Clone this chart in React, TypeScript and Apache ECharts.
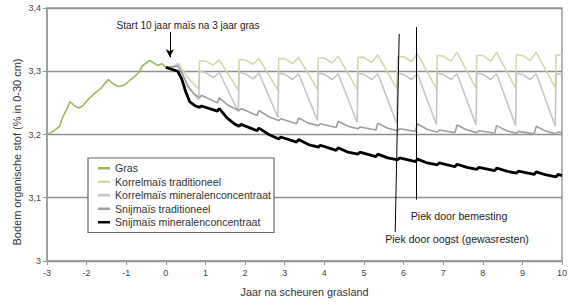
import React, { useEffect, useRef } from "react";
import * as echarts from "echarts";

const seriesNames = [
  "Gras",
  "Korrelmaïs traditioneel",
  "Korrelmaïs mineralenconcentraat",
  "Snijmaïs traditioneel",
  "Snijmaïs mineralenconcentraat",
];

const gras: number[][] = [
  [-3.0, 3.2], [-2.9, 3.203], [-2.78, 3.208], [-2.68, 3.213], [-2.6, 3.228], [-2.5, 3.24],
  [-2.42, 3.252], [-2.3, 3.245], [-2.2, 3.242], [-2.1, 3.245], [-1.95, 3.256], [-1.8, 3.265],
  [-1.65, 3.272], [-1.55, 3.28], [-1.45, 3.287], [-1.35, 3.281], [-1.2, 3.276], [-1.05, 3.278],
  [-0.92, 3.285], [-0.8, 3.291], [-0.68, 3.298], [-0.6, 3.308], [-0.5, 3.313], [-0.4, 3.317],
  [-0.3, 3.313], [-0.2, 3.309], [-0.1, 3.312], [0.0, 3.306],
];

const korrelTrad: number[][] = [
  [0, 3.306], [0.2, 3.306], [0.3, 3.313], [0.4, 3.305], [0.55, 3.29], [0.83, 3.272],
  [0.85, 3.316], [1.0, 3.316], [1.2, 3.31], [1.35, 3.318], [1.83, 3.27],
  [1.85, 3.318], [2.0, 3.318], [2.2, 3.311], [2.35, 3.32], [2.83, 3.27],
  [2.85, 3.32], [3.0, 3.32], [3.2, 3.312], [3.35, 3.322], [3.83, 3.271],
  [3.85, 3.321], [4.0, 3.321], [4.2, 3.313], [4.35, 3.324], [4.83, 3.271],
  [4.85, 3.322], [5.0, 3.322], [5.2, 3.314], [5.35, 3.326], [5.83, 3.272],
  [5.85, 3.323], [6.0, 3.323], [6.2, 3.315], [6.35, 3.328], [6.83, 3.272],
  [6.85, 3.325], [7.0, 3.324], [7.2, 3.316], [7.35, 3.33], [7.83, 3.273],
  [7.85, 3.325], [8.0, 3.325], [8.2, 3.316], [8.35, 3.33], [8.83, 3.273],
  [8.85, 3.326], [9.0, 3.325], [9.2, 3.317], [9.35, 3.33], [9.83, 3.274],
  [9.85, 3.326], [10.0, 3.325],
];

const korrelMin: number[][] = [
  [0, 3.306], [0.3, 3.31], [0.4, 3.3], [0.55, 3.275], [0.83, 3.255],
  [0.85, 3.3], [1.0, 3.298], [1.2, 3.29], [1.35, 3.298], [1.83, 3.236],
  [1.85, 3.298], [2.0, 3.296], [2.2, 3.288], [2.35, 3.297], [2.83, 3.227],
  [2.85, 3.297], [3.0, 3.295], [3.2, 3.287], [3.35, 3.296], [3.83, 3.222],
  [3.85, 3.297], [4.0, 3.295], [4.2, 3.287], [4.35, 3.296], [4.83, 3.219],
  [4.85, 3.297], [5.0, 3.295], [5.2, 3.287], [5.35, 3.296], [5.83, 3.217],
  [5.85, 3.297], [6.0, 3.295], [6.2, 3.287], [6.35, 3.296], [6.83, 3.216],
  [6.85, 3.297], [7.0, 3.295], [7.2, 3.287], [7.35, 3.296], [7.83, 3.215],
  [7.85, 3.297], [8.0, 3.295], [8.2, 3.287], [8.35, 3.296], [8.83, 3.214],
  [8.85, 3.297], [9.0, 3.295], [9.2, 3.287], [9.35, 3.296], [9.83, 3.213],
  [9.85, 3.296], [10.0, 3.295],
];

const snijTrad: number[][] = [
  [0, 3.306], [0.3, 3.308], [0.4, 3.298], [0.55, 3.278], [0.7, 3.265], [0.85, 3.258],
  [0.9, 3.262], [1.3, 3.25], [1.35, 3.258], [1.6, 3.245], [1.85, 3.238], [1.9, 3.241],
  [2.3, 3.23], [2.35, 3.238], [2.6, 3.228], [2.85, 3.222], [2.9, 3.225], [3.3, 3.217],
  [3.35, 3.226], [3.6, 3.218], [3.85, 3.214], [3.9, 3.217], [4.3, 3.211], [4.35, 3.221],
  [4.6, 3.213], [4.85, 3.209], [4.9, 3.212], [5.3, 3.207], [5.35, 3.218], [5.6, 3.21],
  [5.85, 3.206], [5.9, 3.209], [6.3, 3.205], [6.35, 3.217], [6.6, 3.208], [6.85, 3.204],
  [6.9, 3.207], [7.3, 3.203], [7.35, 3.215], [7.6, 3.207], [7.85, 3.203], [7.9, 3.206],
  [8.3, 3.202], [8.35, 3.214], [8.6, 3.206], [8.85, 3.202], [8.9, 3.205], [9.3, 3.201],
  [9.35, 3.213], [9.6, 3.205], [9.85, 3.201], [9.9, 3.204], [10, 3.203],
];

const snijMin: number[][] = [
  [0, 3.306], [0.2, 3.302], [0.3, 3.3], [0.4, 3.288], [0.5, 3.268], [0.6, 3.252], [0.75, 3.245],
  [0.85, 3.243], [0.9, 3.245], [1.3, 3.237], [1.35, 3.241], [1.55, 3.226], [1.75, 3.216],
  [1.85, 3.213], [1.9, 3.216], [2.3, 3.206], [2.35, 3.21], [2.6, 3.2], [2.85, 3.193],
  [2.9, 3.196], [3.3, 3.188], [3.35, 3.192], [3.6, 3.184], [3.85, 3.18], [3.9, 3.183],
  [4.3, 3.175], [4.35, 3.179], [4.6, 3.172], [4.85, 3.169], [4.9, 3.172], [5.3, 3.165],
  [5.35, 3.169], [5.6, 3.163], [5.85, 3.16], [5.9, 3.163], [6.3, 3.157], [6.35, 3.161],
  [6.6, 3.155], [6.85, 3.152], [6.9, 3.155], [7.3, 3.149], [7.35, 3.153], [7.6, 3.148],
  [7.85, 3.145], [7.9, 3.148], [8.3, 3.143], [8.35, 3.147], [8.6, 3.142], [8.85, 3.139],
  [8.9, 3.142], [9.3, 3.137], [9.35, 3.141], [9.6, 3.136], [9.85, 3.133], [9.9, 3.137],
  [10, 3.135],
];

const seriesData = [gras, korrelTrad, korrelMin, snijTrad, snijMin];
const seriesColors = ["#9bbb59", "#cfdcaa", "#c6c6c6", "#9e9e9e", "#000000"];
const seriesWidths = [1.6, 1.6, 1.6, 1.6, 2.8];

const arrowLine = [[0.1, 3.362], [0.1, 3.322]];
const oogstLine = [[5.89, 3.359], [5.79, 3.046]];
const bemestingLine = [[6.32, 3.37], [6.32, 3.097]];

const FONT = "'Liberation Sans', Arial, sans-serif";

export default function App() {
  const ref = useRef<HTMLDivElement>(null);
  useEffect(() => {
    if (!ref.current) return;
    const chart = echarts.init(ref.current, null, { renderer: "svg" });
    const drawOrder = [1, 2, 3, 4, 0];
    const series: any[] = drawOrder.map((i) => ({
      name: seriesNames[i],
      type: "line",
      data: seriesData[i],
      symbol: "none",
      showSymbol: false,
      smooth: false,
      z: i === 4 ? 5 : 3,
      lineStyle: { color: seriesColors[i], width: seriesWidths[i] },
      itemStyle: { color: seriesColors[i] },
    }));
    series.push({
      name: "annotations",
      type: "line",
      data: [],
      z: 6,
      markLine: {
        silent: true,
        animation: false,
        symbol: ["none", "none"],
        label: { show: false },
        lineStyle: { color: "#000", width: 1, type: "solid" },
        data: [
          [{ coord: oogstLine[0] }, { coord: oogstLine[1] }],
          [{ coord: bemestingLine[0] }, { coord: bemestingLine[1] }],
          [
            { coord: arrowLine[0], symbol: "none" },
            { coord: arrowLine[1], symbol: "arrow", symbolSize: [6, 8] },
          ],
        ],
      },
    });
    chart.setOption({
      animation: false,
      textStyle: { fontFamily: FONT },
      grid: {
        left: 47,
        right: 7,
        top: 8,
        bottom: 44,
        show: true,
        borderColor: "#9a9a9a",
        borderWidth: 1.5,
      },
      legend: {
        data: seriesNames.map((n) => ({ name: n, icon: "rect" })),
        orient: "vertical",
        left: 88,
        top: 158,
        padding: [4, 3, 4, 10],
        itemGap: 1,
        itemWidth: 12,
        itemHeight: 2.5,
        backgroundColor: "#fff",
        borderColor: "#666",
        borderWidth: 1.2,
        textStyle: { fontSize: 10.6, color: "#333", fontFamily: FONT, lineHeight: 12.5 },
        selectedMode: false,
      },
      xAxis: {
        type: "value",
        min: -3,
        max: 10,
        interval: 1,
        name: "Jaar na scheuren grasland",
        nameLocation: "middle",
        nameGap: 25,
        nameTextStyle: { fontSize: 10.8, color: "#333", fontFamily: FONT },
        axisLine: { show: true, onZero: false, lineStyle: { color: "#9a9a9a", width: 1.5 } },
        axisTick: { show: true, length: 4, lineStyle: { color: "#9a9a9a" } },
        axisLabel: { fontSize: 9, color: "#444", margin: 7, fontFamily: FONT },
        splitLine: { show: false },
      },
      yAxis: {
        type: "value",
        min: 3,
        max: 3.4,
        interval: 0.1,
        axisLine: { show: true, onZero: false, lineStyle: { color: "#9a9a9a", width: 1.5 } },
        axisTick: { show: true, length: 4, lineStyle: { color: "#9a9a9a" } },
        axisLabel: {
          fontSize: 9,
          color: "#444",
          margin: 6,
          fontFamily: FONT,
          formatter: (v: number) => (Math.abs(v - 3) < 1e-9 ? "3" : v.toFixed(1).replace(".", ",")),
        },
        splitLine: { show: true, lineStyle: { color: "#8f8f8f", width: 1.3 } },
      },
      graphic: [
        {
          type: "text",
          x: 17,
          y: 152,
          rotation: Math.PI / 2,
          style: {
            text: "Bodem organische stof (% in 0-30 cm)",
            fontSize: 11,
            fill: "#333",
            fontFamily: FONT,
            textAlign: "center",
            textVerticalAlign: "middle",
          },
        },
        {
          type: "text",
          x: 188,
          y: 25,
          style: {
            text: "Start 10 jaar maïs na 3 jaar gras",
            fontSize: 10,
            fill: "#222",
            fontFamily: FONT,
            textAlign: "center",
            textVerticalAlign: "middle",
          },
        },
        {
          type: "text",
          x: 459,
          y: 216,
          style: {
            text: "Piek door bemesting",
            fontSize: 10.6,
            fill: "#222",
            fontFamily: FONT,
            textAlign: "center",
            textVerticalAlign: "middle",
          },
        },
        {
          type: "text",
          x: 457,
          y: 239,
          style: {
            text: "Piek door oogst (gewasresten)",
            fontSize: 10.6,
            fill: "#222",
            fontFamily: FONT,
            textAlign: "center",
            textVerticalAlign: "middle",
          },
        },
      ],
      series,
    });
    return () => chart.dispose();
  }, []);
  return (
    <div
      ref={ref}
      style={{ position: "fixed", left: 0, top: 0, width: 570, height: 305, background: "#fff" }}
    />
  );
}
